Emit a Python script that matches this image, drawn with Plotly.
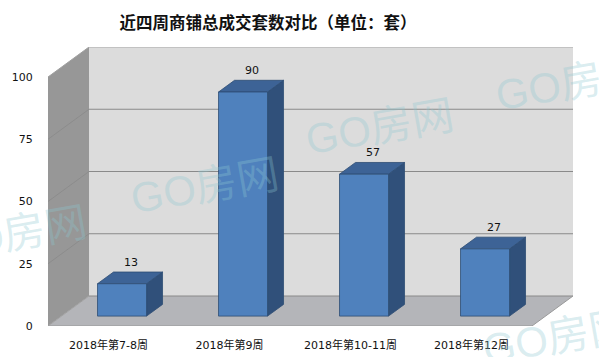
import plotly.graph_objects as go

# ---- data ----
categories = ["2018年第7-8周", "2018年第9周", "2018年第10-11周", "2018年第12周"]
values = [13, 90, 57, 27]
y_ticks = [0, 25, 50, 75, 100]
title_text = "近四周商铺总成交套数对比（单位：套）"
watermark = "GO房网"

# ---- 3D look parameters (axis units) ----
DX = 0.339      # depth of the chart box in x units
DY = 12.05      # depth of the chart box in y units
YMAX = 100
BAR_W = 0.405
FRONT_F = 0.33  # depth position of bar front face
DEPTH_F = 0.39  # bar depth as fraction of box depth

C_BACK = "#dcdcdc"
C_LEFT = "#979797"
C_FLOOR = "#b4b5b9"
C_GRID = "#8a8a8a"
C_FRONT = "#4f81bd"
C_TOP = "#3d6396"
C_SIDE = "#30507a"
C_EDGE = "#2d4c73"

fig = go.Figure()


def poly(xs, ys, fill, line_color=None, lw=0):
    fig.add_trace(go.Scatter(
        x=list(xs) + [xs[0]], y=list(ys) + [ys[0]], mode="lines", fill="toself",
        fillcolor=fill, line=dict(color=line_color or fill, width=lw),
        hoverinfo="skip", showlegend=False))


def seg(xs, ys, color, lw=1):
    fig.add_trace(go.Scatter(x=xs, y=ys, mode="lines", line=dict(color=color, width=lw),
                             hoverinfo="skip", showlegend=False))


n = len(categories)
xl, xr = -0.5, n - 0.5

# back wall
poly([xl + DX, xr + DX, xr + DX, xl + DX], [DY, DY, YMAX + DY, YMAX + DY], C_BACK)
# left wall
poly([xl, xl, xl + DX, xl + DX], [0, YMAX, YMAX + DY, DY], C_LEFT)
# floor
poly([xl, xr, xr + DX, xl + DX], [0, 0, DY, DY], C_FLOOR)

# grid lines on back wall and left wall
for t in y_ticks:
    seg([xl + DX, xr + DX], [t + DY, t + DY], C_GRID if t < YMAX else "#a8a8a8", 1)
    seg([xl, xl + DX], [t, t + DY], "#8c8c8c" if 0 < t < YMAX else "#a0a0a0", 1)
# floor edges
seg([xl, xr, xr + DX], [0, 0, DY], "#999999", 1)

# bars
fx = FRONT_F * DX
fy = FRONT_F * DY
bdx = DEPTH_F * DX
bdy = DEPTH_F * DY
for i, v in enumerate(values):
    x0 = i + fx - BAR_W / 2
    x1 = i + fx + BAR_W / 2
    y0 = fy
    y1 = fy + v
    # side face
    poly([x1, x1 + bdx, x1 + bdx, x1], [y0, y0 + bdy, y1 + bdy, y1], C_SIDE, C_EDGE, 0.8)
    # top face
    poly([x0, x1, x1 + bdx, x0 + bdx], [y1, y1, y1 + bdy, y1 + bdy], C_TOP, C_EDGE, 0.8)
    # front face
    poly([x0, x1, x1, x0], [y0, y0, y1, y1], C_FRONT, C_EDGE, 0.8)

annotations = []
for i, v in enumerate(values):
    annotations.append(dict(
        x=i + fx + bdx / 2 + 0.01, y=fy + v + bdy + 4.0, xref="x", yref="y",
        text=str(v), showarrow=False, xanchor="center", yanchor="middle",
        font=dict(family="DejaVu Sans, Noto Sans CJK SC", size=11, color="#111111")))

# watermarks (pixel positions of text centres)
L, R, T, B = 48, 573, 47, 326
wm_pos = [(12, 234), (204, 186), (379, 127), (569, 83), (556, 337)]
for px, py in wm_pos:
    annotations.append(dict(
        x=(px - L) / (R - L), y=(B - py) / (B - T), xref="paper", yref="paper",
        text=watermark, showarrow=False, textangle=-10, xanchor="center", yanchor="middle",
        font=dict(family="Liberation Sans, Noto Sans CJK SC", size=42,
                  color="rgba(140,200,210,0.32)")))

fig.update_layout(
    width=599, height=357, autosize=False,
    margin=dict(l=L, r=599 - R, t=T, b=357 - B),
    paper_bgcolor="white", plot_bgcolor="white",
    title=dict(text="<b>" + title_text + "</b>", x=268 / 599, xanchor="center",
               y=1 - 23.5 / 357, yanchor="middle",
               font=dict(family="Noto Sans CJK SC", size=16.5, color="#111111")),
    xaxis=dict(range=[xl, xr + DX], tickvals=list(range(n)), ticktext=categories,
               showgrid=False, zeroline=False, showline=False, automargin=False,
               ticks="outside", ticklen=9, tickcolor="rgba(0,0,0,0)",
               tickfont=dict(family="DejaVu Sans, Noto Sans CJK SC", size=11, color="#111111"),
               fixedrange=True),
    yaxis=dict(range=[0, YMAX + DY], tickvals=y_ticks,
               showgrid=False, zeroline=False, showline=False, automargin=False,
               ticks="outside", ticklen=12, tickcolor="rgba(0,0,0,0)",
               tickfont=dict(family="DejaVu Sans, Noto Sans CJK SC", size=11, color="#111111"),
               fixedrange=True),
    annotations=annotations,
    showlegend=False,
)

fig.write_html("out.html", config={"displayModeBar": False},
               post_script="document.body.style.margin='0';")
